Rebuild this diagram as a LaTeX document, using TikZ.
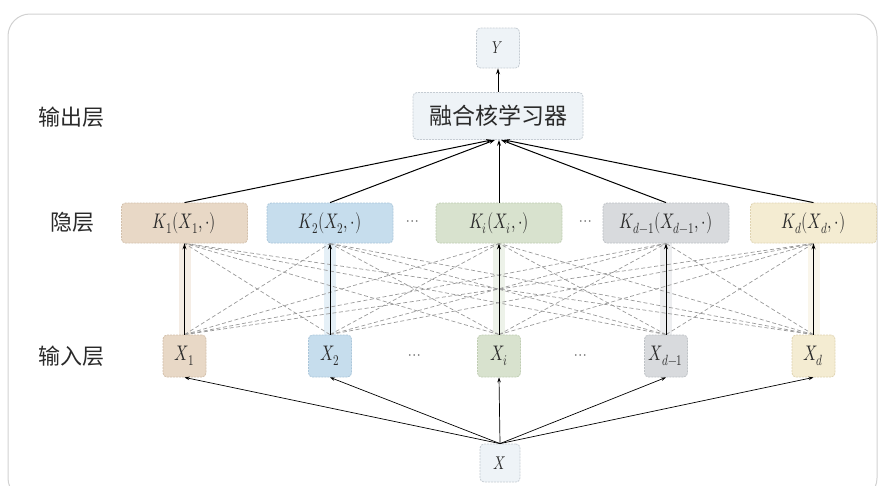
\documentclass[tikz,border=0pt]{standalone}
\usepackage{fontspec}
\usepackage{graphicx}
\usepackage{unicode-math}
\setmathfont{Latin Modern Math}
\newfontfamily\cjk{Noto Sans CJK SC}
\usetikzlibrary{arrows.meta,backgrounds}
\newcommand{\tallm}[1]{\scalebox{1}[1.32]{$#1$}}
\definecolor{fA}{HTML}{E8D8C6}\definecolor{eA}{HTML}{D2BFAA}
\definecolor{fB}{HTML}{C6DDED}\definecolor{eB}{HTML}{AAC6DA}
\definecolor{fC}{HTML}{D8E2CE}\definecolor{eC}{HTML}{BFCDB2}
\definecolor{fD}{HTML}{D8DADD}\definecolor{eD}{HTML}{BEC2C6}
\definecolor{fE}{HTML}{F4ECD2}\definecolor{eE}{HTML}{DFD3B0}
\definecolor{fL}{HTML}{EEF3F7}\definecolor{eL}{HTML}{C5CCD3}
\definecolor{txt}{HTML}{2A2A2A}
\tikzset{
  basebox/.style={rounded corners=4pt, line width=0.8pt, dash pattern=on 2pt off 1pt, inner sep=0pt, text=txt},
  colbox/.style={basebox, fill=f#1, draw=e#1},
  lbox/.style={basebox, fill=fL, draw=eL},
  kbox/.style={colbox=#1, minimum width=126pt, minimum height=40pt, font=\fontsize{16}{19}\selectfont},
  xbox/.style={colbox=#1, minimum width=43pt, minimum height=42pt, font=\fontsize{16}{19}\selectfont},
  layerlab/.style={font=\cjk\fontsize{22}{26}\selectfont, text=txt},
  dotsl/.style={font=\fontsize{16}{18}\selectfont, text=black!60},
  mainarr/.style={line width=1pt, -{Stealth[length=6pt,width=4pt]}},
  inarr/.style={line width=0.7pt, -{Stealth[length=5pt,width=3.5pt]}},
  cross/.style={black!40, line width=0.7pt, dash pattern=on 4pt off 2.5pt},
  band/.style={line width=12pt, draw=f#1, opacity=0.45}
}
\begin{document}
\begin{tikzpicture}[x=1pt,y=-1pt]
\useasboundingbox (0,0) rectangle (880,485);
% nodes
\node[lbox, minimum width=43pt, minimum height=40pt, font=\fontsize{13}{15}\selectfont] (Y) at (498,48) {\tallm{Y}};
\node[lbox, minimum width=170pt, minimum height=47pt, font=\cjk\fontsize{23}{27}\selectfont] (F) at (498,116) {融合核学习器};
\node[kbox=A] (K1) at (184.5,223) {\tallm{K_1(X_1,\cdot)}};
\node[kbox=B] (K2) at (330,223) {\tallm{K_2(X_2,\cdot)}};
\node[kbox=C] (Ki) at (499,223) {\tallm{K_i(X_i,\cdot)}};
\node[kbox=D] (Kd1) at (666,223) {\tallm{K_{d-1}(X_{d-1},\cdot)}};
\node[kbox=E] (Kd) at (813.5,223) {\tallm{K_d(X_d,\cdot)}};
\node[xbox=A] (X1) at (184.5,356) {\tallm{X_1}};
\node[xbox=B] (X2) at (330,356) {\tallm{X_2}};
\node[xbox=C] (Xi) at (499,356) {\tallm{X_i}};
\node[xbox=D] (Xd1) at (666,356) {\tallm{X_{d-1}}};
\node[xbox=E] (Xd) at (813.5,356) {\tallm{X_d}};
\node[lbox, minimum width=40pt, minimum height=38pt, font=\fontsize{14}{16}\selectfont] (X) at (500,463) {\tallm{X}};
% labels
\node[layerlab] (L1) at (71,117) {输出层};
\node[layerlab] (L2) at (72,222) {隐层};
\node[layerlab] (L3) at (71,356) {输入层};
\node[dotsl] (d1) at (413,223) {$\cdots$};
\node[dotsl] (d2) at (586,223) {$\cdots$};
\node[dotsl] (d3) at (415,357) {$\cdots$};
\node[dotsl] (d4) at (581,357) {$\cdots$};
\begin{scope}[on background layer]
  \draw[black!18, line width=1pt, rounded corners=22pt] (8,14) rectangle (877,500);
  \foreach \n/\c in {1/A,2/B,i/C,d1/D,d/E}
    \draw[band=\c] (X\n.north) -- (K\n.south);
  \foreach \a in {1,2,i,d1,d}
    \foreach \b in {1,2,i,d1,d}
      {\ifx\a\b\else \draw[cross] (X\a.north) -- (K\b.south);\fi}
\end{scope}
% vertical arrows
\foreach \n in {1,2,i,d1,d}
  \draw[mainarr] (X\n.north) -- (K\n.south);
% hidden to fusion
\draw[mainarr] (K1.north) -- ([xshift=-6pt]F.south);
\draw[mainarr] (K2.north) -- ([xshift=-3pt]F.south);
\draw[mainarr] (Ki.north) -- (F.south -| Ki.north);
\draw[mainarr] (Kd1.north) -- ([xshift=3pt]F.south);
\draw[mainarr] (Kd.north) -- ([xshift=6pt]F.south);
\draw[mainarr] (F.north -| Y.south) -- (Y.south);
% input arrows
\foreach \n in {1,2,i,d1,d}
  \draw[inarr] (X.north) -- (X\n.south);
\end{tikzpicture}
\end{document}
